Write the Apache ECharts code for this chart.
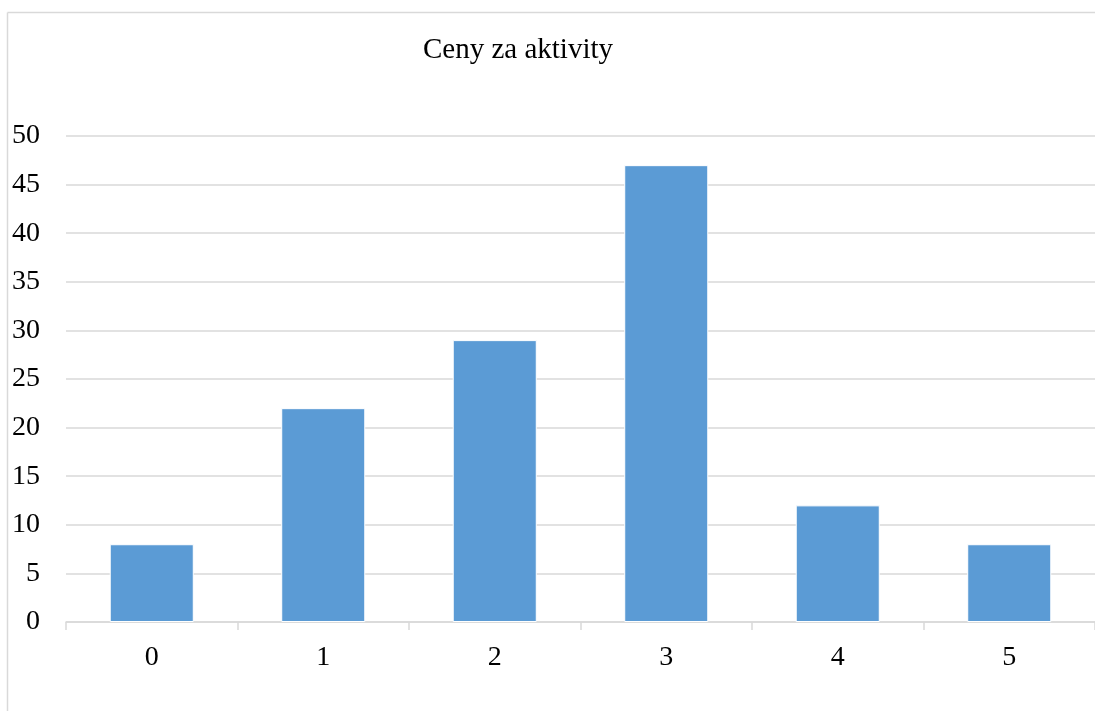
<!DOCTYPE html>
<html><head><meta charset="utf-8">
<script src="https://cdn.jsdelivr.net/npm/echarts@6/dist/echarts.min.js"></script>
<style>html,body{margin:0;padding:0;background:#fff;overflow:hidden}#c{width:1095px;height:711px}</style>
</head><body><div id="c"></div>
<script>
const title = "Ceny za aktivity";
const categories = ["0","1","2","3","4","5"];
const values = [8, 22, 29, 47, 12, 8];
const yMin = 0, yMax = 50, yStep = 5;

const chart = echarts.init(document.getElementById('c'), null, {renderer:'canvas'});
const font = '"Liberation Serif", "Times New Roman", serif';
chart.setOption({
  animation:false,
  backgroundColor:'#fff',
  graphic:[
    {type:'line', shape:{x1:7.5,y1:12.5,x2:1095,y2:12.5}, style:{stroke:'#d9d9d9', lineWidth:1.5}, z:-1},
    {type:'line', shape:{x1:7.5,y1:12.5,x2:7.5,y2:711}, style:{stroke:'#d9d9d9', lineWidth:1.5}, z:-1}
  ],
  title:{text:title, left:513, top:31, textAlign:'center', textStyle:{fontFamily:font, fontSize:29, fontWeight:'normal', color:'#000'}},
  grid:{left:66, right:-5, top:136, bottom:89, containLabel:false},
  xAxis:{type:'category', data:categories,
    axisLine:{lineStyle:{color:'#d9d9d9', width:1.5}},
    axisTick:{show:true, length:8, lineStyle:{color:'#d9d9d9', width:1.5}},
    splitLine:{show:false},
    axisLabel:{fontFamily:font, fontSize:28, color:'#000', margin:22}},
  yAxis:{type:'value', min:yMin, max:yMax, interval:yStep,
    axisLine:{show:false}, axisTick:{show:false},
    splitLine:{lineStyle:{color:'#d9d9d9', width:1.5}},
    axisLabel:{fontFamily:font, fontSize:28, color:'#000', margin:26}},
  series:[{type:'bar', data:values, barCategoryGap:'51%',
    itemStyle:{color:'#5b9bd5', borderColor:'#ffffff', borderWidth:1}}]
});
</script></body></html>
